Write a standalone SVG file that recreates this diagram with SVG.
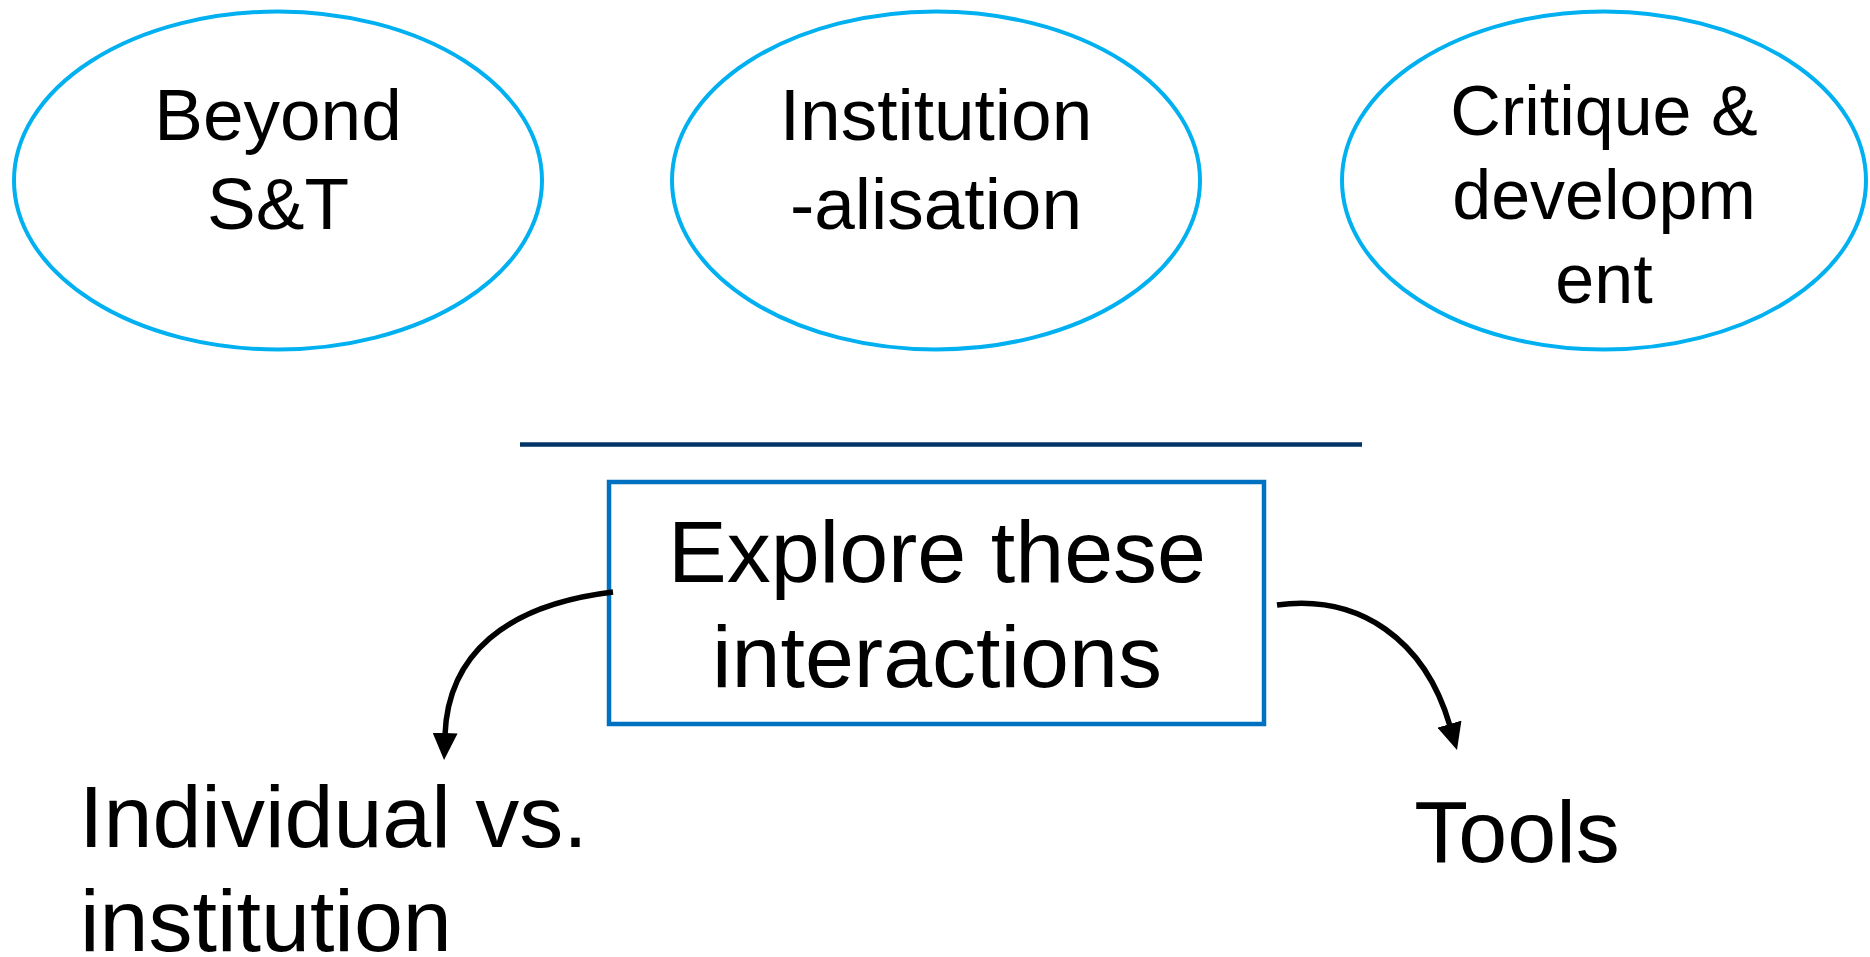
<svg xmlns="http://www.w3.org/2000/svg" width="1870" height="957" viewBox="0 0 1870 957">
<style>
.ell{fill:#FFFFFF;stroke:#00B0F0;stroke-width:4}
.t{font-family:"Liberation Sans",Arial,sans-serif;fill:#000000;text-anchor:middle}
.t73{font-size:73px}
.t70{font-size:70px}
.t88{font-size:88px}
.conn{fill:none;stroke:#000000;stroke-width:5.5}
</style>
<defs>
<marker id="ah" markerUnits="userSpaceOnUse" markerWidth="27" markerHeight="25" viewBox="0 0 27 25" refX="2" refY="12.5" orient="auto">
<path d="M0,0 L27,12.5 L0,25 z" fill="#000000"/>
</marker>
</defs>
<rect width="1870" height="957" fill="#FFFFFF"/>
<g id="node-beyond">
<ellipse class="ell" cx="278" cy="180.5" rx="264" ry="169"/>
<text class="t t73" x="278" y="140">Beyond</text>
<text class="t t73" x="278" y="228.5">S&amp;T</text>
</g>
<g id="node-institutionalisation">
<ellipse class="ell" cx="936" cy="180.5" rx="264" ry="169"/>
<text class="t t73" x="936" y="140">Institution</text>
<text class="t t73" x="936" y="228.5">-alisation</text>
</g>
<g id="node-critique">
<ellipse class="ell" cx="1604" cy="180.5" rx="262" ry="169"/>
<text class="t t70" x="1604" y="135">Critique &amp;</text>
<text class="t t70" x="1604" y="219">developm</text>
<text class="t t70" x="1604" y="303">ent</text>
</g>
<g id="divider">
<line x1="520" y1="444.5" x2="1362" y2="444.5" stroke="#003366" stroke-width="4.5"/>
</g>
<g id="node-explore">
<rect x="609" y="482" width="655" height="242" fill="#FFFFFF" stroke="#0070C0" stroke-width="4.5"/>
<text class="t t88" x="937" y="582">Explore these</text>
<text class="t t88" x="937" y="687">interactions</text>
</g>
<g id="node-individual">
<text class="t t88" x="79" y="847" style="text-anchor:start">Individual vs.</text>
<text class="t t88" x="80" y="951" style="text-anchor:start">institution</text>
</g>
<g id="node-tools">
<text class="t t88" x="1517" y="862">Tools</text>
</g>
<g id="connectors">
<path class="conn" d="M613,592 C505,605 448,655 445,735" marker-end="url(#ah)"/>
<path class="conn" d="M1277,605 C1360,594 1425,640 1450,726" marker-end="url(#ah)"/>
</g>
</svg>
